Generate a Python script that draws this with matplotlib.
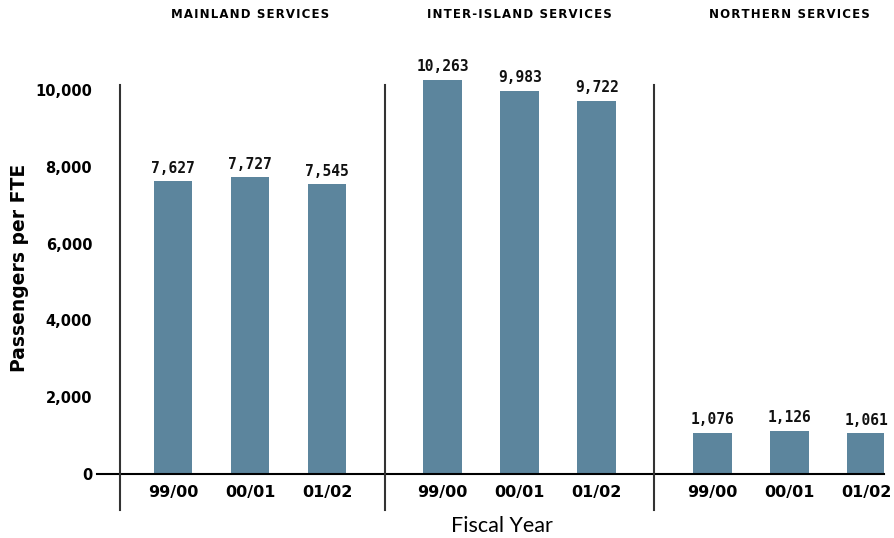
import numpy as np
import matplotlib.pyplot as plt

groups = ["MAINLAND SERVICES", "INTER-ISLAND SERVICES", "NORTHERN SERVICES"]
years = ["99/00", "00/01", "01/02"]
mainland = [7627, 7727, 7545]
inter_island = [10263, 9983, 9722]
northern = [1076, 1126, 1061]
yticks = [0, 2000, 4000, 6000, 8000, 10000]

series = [mainland, inter_island, northern]
group_start = [0, 3.5, 7]
bar_color = "#5c859d"

fig = plt.figure(figsize=(8.94, 5.38), dpi=100)
W, H = 894, 538
# 10,000 sits at y=90 px, 0 at y=474 px
ppu = (474 - 90) / 10000
top_px = 40
ytop = (474 - top_px) / ppu
ax = fig.add_axes([120 / W, (H - 474) / H, (884 - 120) / W, (474 - top_px) / H])

xs, vals, labels = [], [], []
for start, vals_g in zip(group_start, series):
    for i, v in enumerate(vals_g):
        xs.append(start + i)
        vals.append(v)
        labels.append(years[i])

ax.bar(xs, vals, width=0.5, color=bar_color, zorder=2)
for x, v in zip(xs, vals):
    ax.annotate(f"{v:,}", (x, v), xytext=(0, 4), textcoords="offset points",
                ha="center", va="bottom", fontsize=10.5, fontweight="bold",
                family="DejaVu Sans Mono", color="#111")

xmin, xmax = -0.69, 9.23
ax.set_xlim(xmin, xmax)
ax.set_ylim(0, ytop)

for s in ax.spines.values():
    s.set_visible(False)

# baseline runs a bit left of the plot as the zero tick
ax.plot([xmin - 23 / 77, xmax], [0, 0], color="black", lw=1.5,
        clip_on=False, zorder=3)

# vertical dividers, reaching below the baseline
line_top = (474 - 85) / ppu
for xv in [xmin, 2.75, 6.25]:
    ax.plot([xv, xv], [-36 / ppu, line_top], color="#333", lw=1.5,
            clip_on=False, zorder=3)

ax.set_yticks(yticks)
ax.set_yticklabels([f"{t:,}" for t in yticks], fontsize=10.5,
                   fontweight="bold")
ax.tick_params(axis="y", length=0, pad=20)
ax.set_xticks(xs)
ax.set_xticklabels(labels, fontsize=11.5, fontweight="bold")
ax.tick_params(axis="x", length=0, pad=8)

for start, name in zip(group_start, groups):
    spaced = "\u200a".join(name)
    fig.text((173 + (start + 1) * 77) / W, 1 - 14 / H, spaced,
             ha="center", va="center", fontsize=8.5, fontweight="bold")

fig.text(20 / W, 1 - 268 / H, "Passengers per FTE", rotation=90,
         ha="center", va="center", fontsize=13.5, fontweight="bold")
fig.text(502 / W, 1 - 526 / H, "Fiscal Year", ha="center", va="center",
         fontsize=15.5, family="Lato")

fig.savefig("out.png", dpi=100)
